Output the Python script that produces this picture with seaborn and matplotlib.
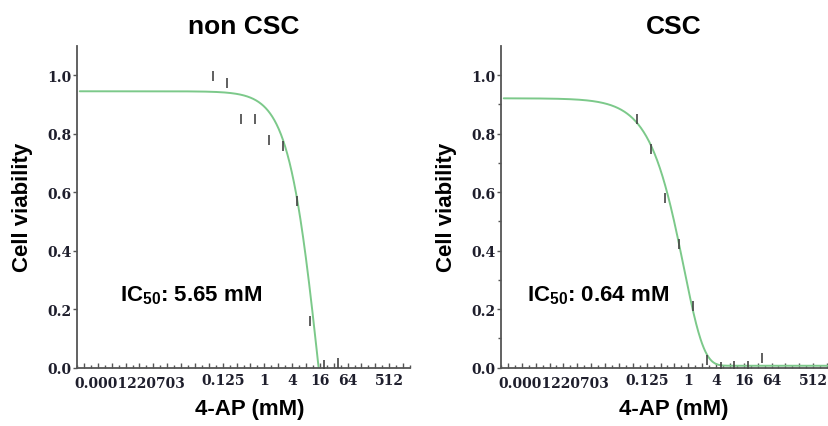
import numpy as np
import pandas as pd
import seaborn as sns
import matplotlib.pyplot as plt
from matplotlib.ticker import NullFormatter

conc = [0.078125, 0.15625, 0.3125, 0.625, 1.25, 2.5, 5, 10, 20, 40]
viab_noncsc = [0.997, 0.973, 0.851, 0.851, 0.779, 0.757, 0.568, 0.159, 0.010, 0.015]
viab_csc = [0.850, 0.749, 0.580, 0.423, 0.210, 0.025, 0.002, 0.005, 0.005, 0.033]

# fitted curve parameters
noncsc_top, noncsc_bottom, noncsc_ec, noncsc_hill = 0.945, -1.0, 15.7, 1.3
csc_top, csc_bottom, csc_rate = 0.921, 0.006, 1.25

ic50_labels = ["5.65 mM", "0.64 mM"]
titles = ["non CSC", "CSC"]

tick_values = [2**-13, 0.125, 1, 4, 16, 64, 512]
tick_labels = ["0.0001220703", "0.125", "1", "4", "16", "64", "512"]
ytick_values = [0, 0.2, 0.4, 0.6, 0.8, 1.0]
ytick_labels = ["0.0", "0.2", "0.4", "0.6", "0.8", "1.0"]

sns.set_style("white")
plt.rcParams["font.family"] = ["Liberation Sans", "DejaVu Sans"]
plt.rcParams["text.color"] = "black"
plt.rcParams["axes.labelcolor"] = "black"
plt.rcParams["mathtext.fontset"] = "custom"
plt.rcParams["mathtext.rm"] = "Liberation Sans"
plt.rcParams["mathtext.bf"] = "Liberation Sans:bold"

xmin, xmax = 2**-13.3, 2**10.1
xs = np.logspace(np.log2(xmin), np.log2(xmax), 600, base=2)
curve_noncsc = noncsc_bottom + (noncsc_top - noncsc_bottom) / (1 + (xs / noncsc_ec) ** noncsc_hill)
curve_csc = csc_bottom + (csc_top - csc_bottom) * np.exp(-csc_rate * xs)

fig = plt.figure(figsize=(8.29, 4.27), dpi=100)
ax1 = fig.add_axes([0.0929, 0.137, 0.4017, 0.753])
ax2 = fig.add_axes([0.6043, 0.137, 0.4017, 0.753])

panels = [
    (ax1, curve_noncsc, viab_noncsc, False),
    (ax2, curve_csc, viab_csc, True),
]

tick_col = "#1e1e2c"
tick_font = dict(family="DejaVu Serif", weight="bold", size=10)
for i, (ax, curve, viab, yminor) in enumerate(panels):
    sns.lineplot(x=xs, y=curve, ax=ax, color="#7cc98a", linewidth=1.4)
    df = pd.DataFrame({"conc": conc, "viab": viab})
    sns.scatterplot(data=df, x="conc", y="viab", ax=ax, marker="|", s=55,
                    color="#444444", linewidth=1.2, zorder=3)
    ax.set_xscale("log", base=2)
    ax.set_xlim(xmin, xmax)
    ax.set_ylim(0, 1.1)

    for side in ["top", "right"]:
        ax.spines[side].set_visible(False)
    for side in ["left", "bottom"]:
        ax.spines[side].set_color("#555555")
        ax.spines[side].set_linewidth(1.3)

    # x ticks: every doubling, labels only at a few (first one drawn separately)
    majors = [2.0**k for k in range(-13, 11)]
    labels = []
    for m in majors:
        lab = ""
        for v, t in zip(tick_values[1:], tick_labels[1:]):
            if np.isclose(m, v):
                lab = t
        labels.append(lab)
    ax.set_xticks(majors)
    ax.set_xticklabels(labels)
    ax.set_xticks([2.0**(k + 0.5) for k in range(-14, 11)], minor=True)
    ax.xaxis.set_minor_formatter(NullFormatter())
    ax.tick_params(axis="x", which="both", bottom=True)
    ax.tick_params(axis="x", which="major", direction="in", length=3.8, width=1,
                   color="#555555", pad=4, labelsize=10, labelcolor=tick_col,
                   labelfontfamily="DejaVu Serif")
    ax.tick_params(axis="x", which="minor", direction="in", length=2.2, width=1,
                   color="#555555")
    ax.text(2**-13.66, -0.025, tick_labels[0], transform=ax.get_xaxis_transform(),
            ha="left", va="top", color=tick_col, fontproperties=tick_font)

    ax.set_yticks(ytick_values)
    ax.set_yticklabels(ytick_labels)
    if yminor:
        ax.set_yticks([0.1, 0.3, 0.5, 0.7, 0.9], minor=True)
    else:
        ax.set_yticks([], minor=True)
    ax.yaxis.set_minor_formatter(NullFormatter())
    ax.tick_params(axis="y", which="both", left=True)
    ax.tick_params(axis="y", which="major", direction="out", length=3, width=1,
                   color="#555555", pad=1, labelsize=10, labelcolor=tick_col,
                   labelfontfamily="DejaVu Serif")
    ax.tick_params(axis="y", which="minor", direction="out", length=2, width=1,
                   color="#555555")
    plt.setp(ax.get_xticklabels() + ax.get_yticklabels(), fontweight="bold")

    ax.set_xlabel("4-AP (mM)", fontsize=16, fontweight="bold", labelpad=8, x=0.52)
    ax.set_ylabel("Cell viability", fontsize=16, fontweight="bold", labelpad=10)
    ax.set_title(titles[i], fontsize=19, fontweight="bold", pad=9,
                 x=0.5 if i == 0 else 0.52)

    tx = 0.129 if i == 0 else 0.078
    ax.text(tx, 0.208, r"$\mathbf{IC_{50}}$: " + ic50_labels[i], transform=ax.transAxes,
            fontsize=16, fontweight="bold", va="baseline", ha="left")

fig.savefig("out.png", dpi=100)
